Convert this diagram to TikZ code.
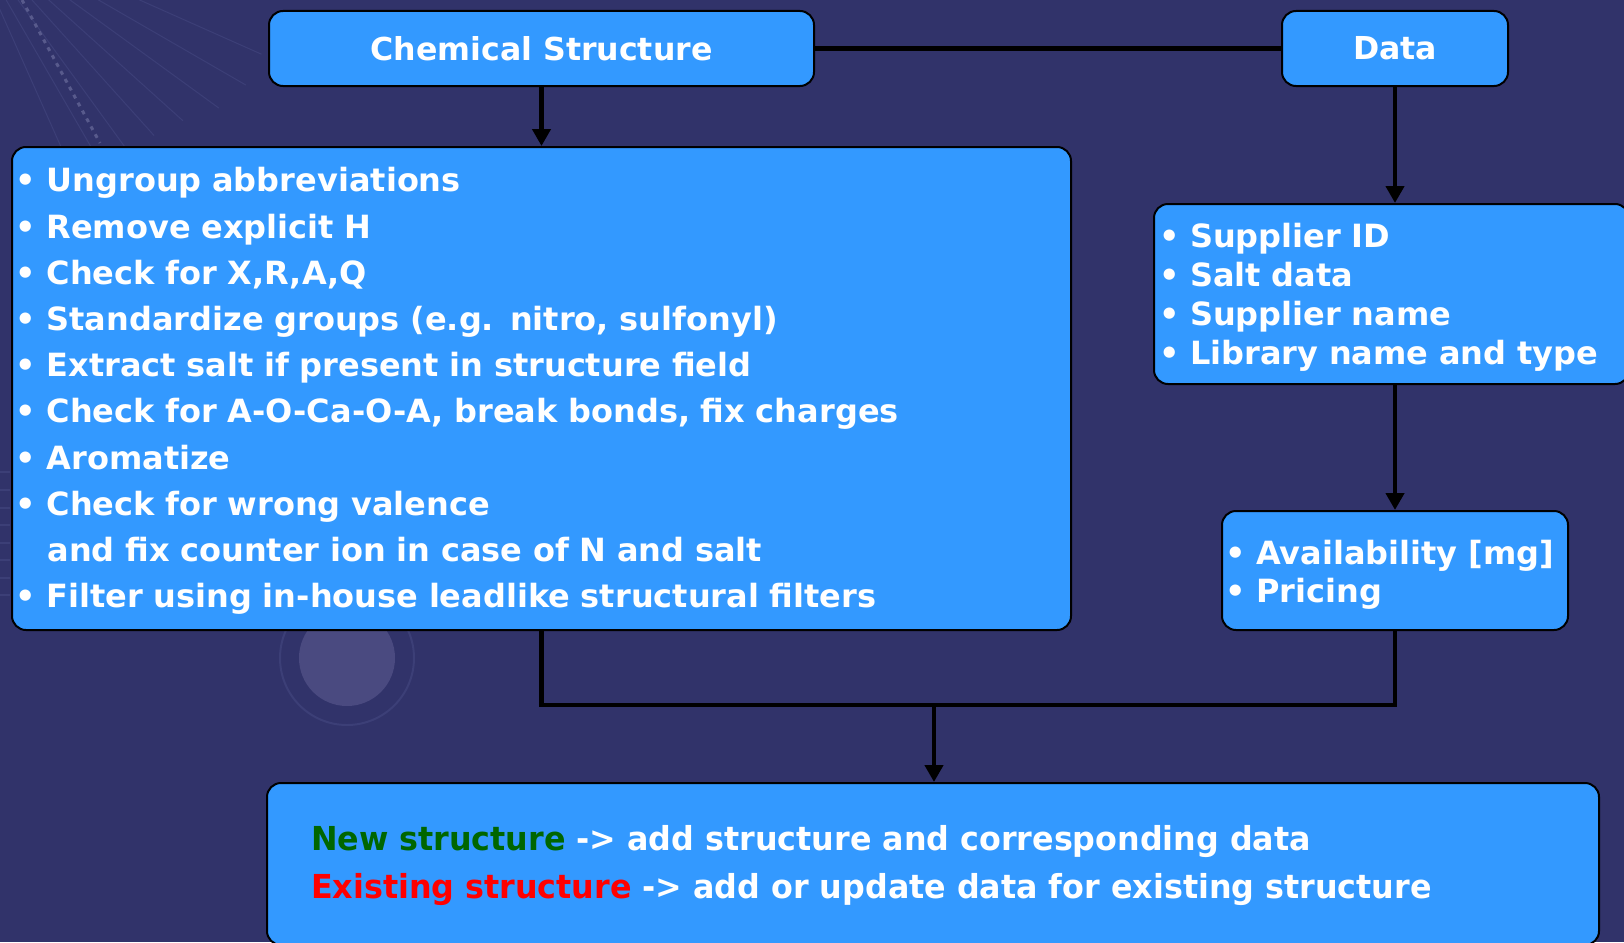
\documentclass[tikz,border=0pt]{standalone}
\usepackage{fontspec}
\setmainfont{DejaVu Sans}
\newfontfamily\condfont{DejaVu Sans Condensed}[FakeStretch=1.07]
\usepackage{tikz}
\usetikzlibrary{arrows.meta,positioning}
\definecolor{bgnavy}{HTML}{31336A}
\definecolor{boxblue}{HTML}{3399FF}
\definecolor{newgreen}{HTML}{006600}
\definecolor{streak}{HTML}{3C3F77}
\definecolor{streakdot}{HTML}{585A8C}
\definecolor{disc}{HTML}{4A4A80}
% taller first line, so the text of a box sits a bit lower
\newcommand{\topgap}[1]{\rule{0pt}{\dimexpr\fontcharht\font`l+#1\relax}}
\tikzset{
  every picture/.style = {
    x = 1pt,
    y = -1pt,
    >={Triangle[length=17pt,width=18pt]},
  }
  ,
  panel/.style = {
    rectangle,
    rounded corners = 14pt,
    draw = black,
    line width = 2pt,
    fill = boxblue,
    text = white,
    inner sep = 0pt,
    anchor = north west,
    font = \bfseries\fontsize{31.6}{46}\selectfont
  }
  , % bullet lists
  list/.style = {
    panel,
    align = left,
    font = \bfseries\fontsize{32}{46.2}\selectfont
  }
  ,
  drop/.style = {
    execute at begin node = {\topgap{#1}}
  }
  , % connectors
  link/.style = {
    line width = 4.5pt,
    draw = black
  }
}

\begin{document}
\begin{tikzpicture}
      \useasboundingbox (0,0) rectangle (1624,942);
      \fill[bgnavy] (0,0) rectangle (1624,942);

      % background ornaments
      \foreach \a/\l in {24/330, 30/330, 36/320, 42/300, 48/290, 54/280, 60/270, 66/250}
        \draw[streak, line width=1pt] (-40,-80) -- ++(\a:\l);
      \draw[streakdot, line width=3pt, dash pattern=on 4pt off 5pt] (22,0) -- (100,143);
      \foreach \y in {472,490,508,525,543,560,578,595}
        \draw[streak, line width=2pt] (0,\y) -- (10,\y);
      \fill[disc] (347,658) circle (48);
      \draw[streak, line width=2pt] (347,658) circle (67);

      \node [panel, minimum width=545pt, minimum height=75pt] (cs) at (268,10) {Chemical Structure};
      \node [panel, minimum width=226pt, minimum height=75pt] (data) at (1281,10) {Data};

      \node [list, drop=6pt, minimum width=1059pt, minimum height=483pt, text width=1052pt] (steps) at (11,146)
        {• Ungroup abbreviations\\
         • Remove explicit H\\
         • Check for X,R,A,Q\\
         • Standardize groups (e.g. nitro, sulfonyl)\\
         • Extract salt if present in structure field\\
         • Check for A-O-Ca-O-A, break bonds, fix charges\\
         • Aromatize\\
         • Check for wrong valence\\
         \hspace*{32pt}and fix counter ion in case of N and salt\\
         • Filter using in-house leadlike structural filters};

      \node [list, drop=8pt, minimum width=475pt, minimum height=180pt, text width=465pt,
             font=\bfseries\fontsize{32}{39}\selectfont] (supp) at (1153,203)
        {• Supplier ID\\
         • Salt data\\
         • Supplier name\\
         • Library name and type};

      \node [list, drop=10pt, minimum width=346pt, minimum height=119pt, text width=340pt,
             font=\bfseries\fontsize{32}{38.5}\selectfont] (avail) at (1221,510)
        {• Availability [mg]\\
         • Pricing};

      \node [panel, align=left, drop=4pt, minimum width=1332pt, minimum height=162pt, text width=1244pt,
             font=\condfont\bfseries\fontsize{33}{47.5}\selectfont] (result) at (266,782)
        {{\color{newgreen}New structure} -> add structure and corresponding data\\
         {\color{red}Existing structure} -> add or update data for existing structure};

      \coordinate (join) at (934,705);

      \draw[link] (cs) -- (data);
      \draw[link, ->] (cs) -- (cs |- steps.north);
      \draw[link, ->] (data) -- (data |- supp.north);
      \draw[link, ->] (supp.south -| data) -- (avail.north -| data);
      \draw[link] (steps.south -| cs) |- (join) -| (avail.south -| data);
      \draw[link, ->] (join) -- (join |- result.north);

    \end{tikzpicture}
\end{document}
